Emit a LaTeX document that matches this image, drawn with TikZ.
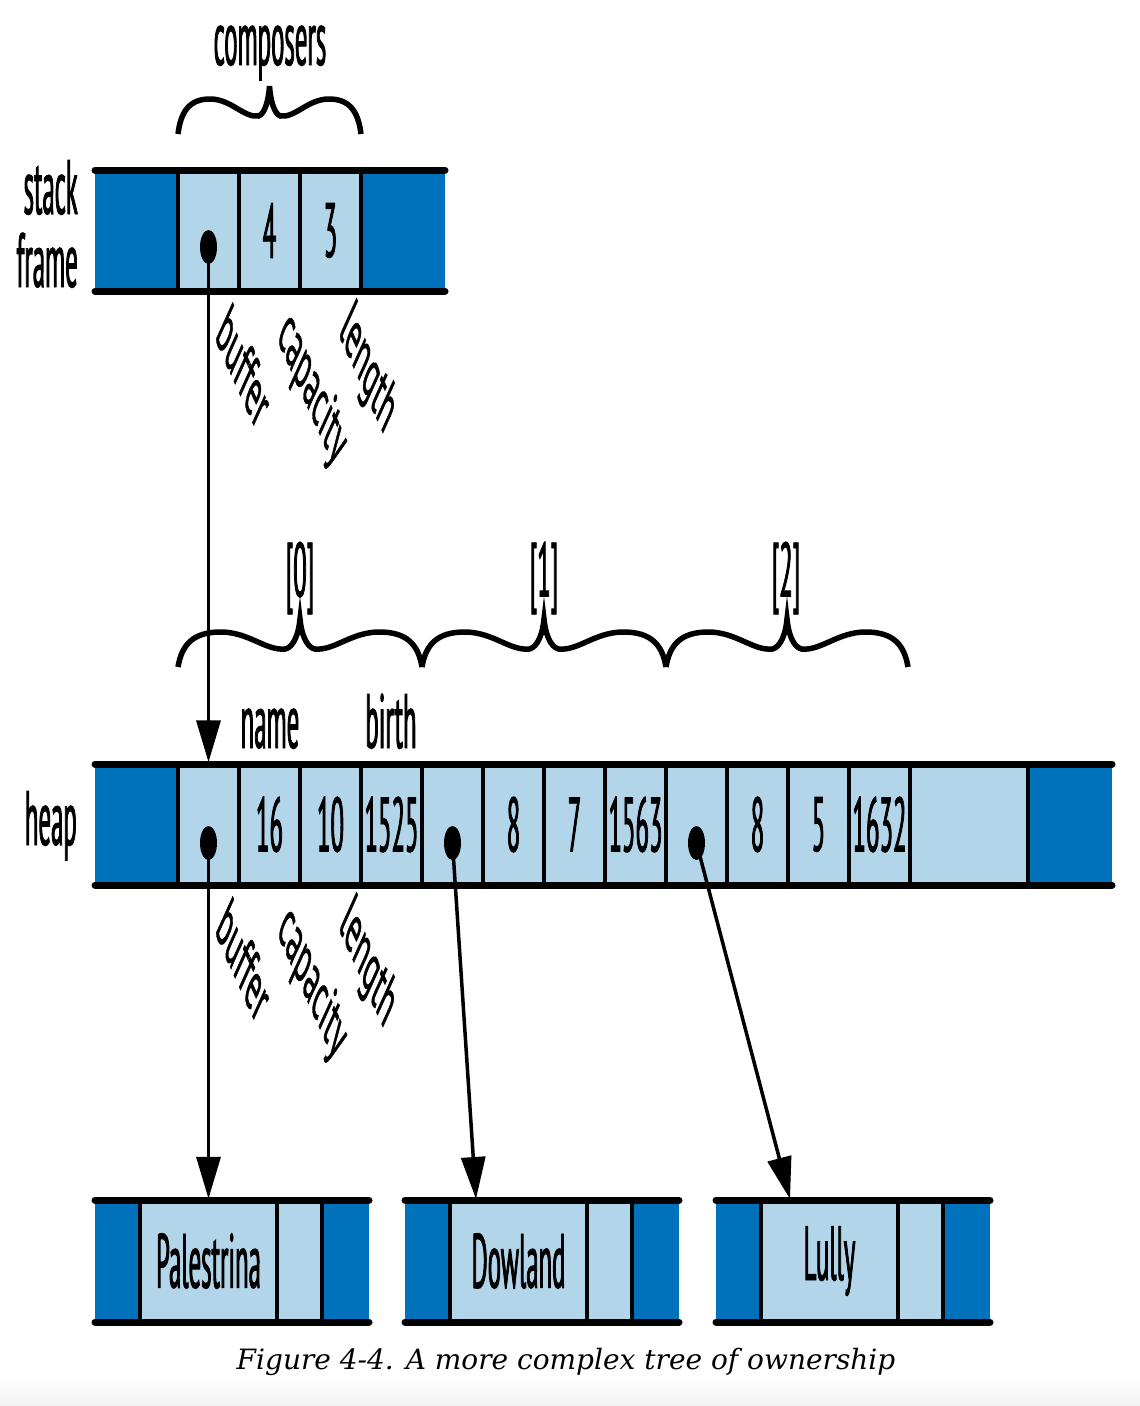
\documentclass[tikz,border=0pt]{standalone}
\usepackage{fontspec}
\usetikzlibrary{arrows.meta,shapes.geometric}
\newfontfamily\figfont[FakeStretch=0.322,FakeBold=1]{PT Sans}
\newfontfamily\rotfont[FakeStretch=0.68,FakeBold=1]{PT Sans}
\newfontfamily\capfont{DejaVu Serif}
\newcommand{\figtxt}{\figfont\fontsize{77}{84}\selectfont}
\newcommand{\rottxt}{\rotfont\fontsize{77}{84}\selectfont}
\definecolor{dk}{HTML}{0072BB}
\definecolor{lt}{HTML}{B3D5EA}

\begin{document}
\begin{tikzpicture}[x=1pt,y=-1pt,
  cell/.style={rectangle,draw=black,fill=lt,line width=3.5pt,minimum height=121pt,inner sep=0pt,font=\figtxt},
  bar/.style={line width=7pt,line cap=round},
  dot/.style={ellipse,fill=black,minimum width=17pt,minimum height=34pt,inner sep=0pt},
  ptr/.style={-{Triangle[length=42pt,width=24pt]},line width=3.5pt},
  brc/.style={line width=5.5pt},
  lab/.style={font=\figtxt,inner sep=0pt},
  rot/.style={font=\rottxt,inner sep=0pt,xscale=0.45,rotate=-45,transform shape}]
\useasboundingbox (0,0) rectangle (1140,1406);
\shade[top color=white,bottom color=black!5] (0,1378) rectangle (1140,1406);

% ---------- stack frame ----------
\fill[dk] (95,170) rectangle (445,291);
\node[cell,minimum width=61pt] (sbuf) at (208.5,230.5) {};
\node[cell,minimum width=61pt] (scap) at (269.5,230.5) {4};
\node[cell,minimum width=61pt] (slen) at (330.5,230.5) {3};
\draw[bar] (95,170) -- (445,170) (95,291) -- (445,291);
\node[dot] (sdot) at (208.5,247) {};
\node[lab,anchor=base east] (lstack) at (78,214) {stack};
\node[lab,anchor=base east] (lframe) at (78,287) {frame};
\node[lab,anchor=base] (lcomp) at (270,65) {composers};
\node[rot] (sbufl) at (244,366) {buffer};
\node[rot] (scapl) at (312,390) {capacity};
\node[rot] (slenl) at (367,371) {length};

% ---------- braces ----------
\foreach \a/\b/\yb in {178/361/134,178/422/667,422/666/667,666/908/667}{
  \pgfmathsetmacro\hw{(\b-\a)/2}
  \begin{scope}[shift={(\a,\yb)},xscale=\hw]
    \draw[brc] (0,0) .. controls (0.03,-22) and (0.12,-35) .. (0.35,-35)
      .. controls (0.58,-35) and (0.72,-16) .. (0.88,-18)
      .. controls (0.95,-20) and (0.99,-34) .. (1,-48)
      .. controls (1.01,-34) and (1.05,-20) .. (1.12,-18)
      .. controls (1.28,-16) and (1.42,-35) .. (1.65,-35)
      .. controls (1.88,-35) and (1.97,-22) .. (2,0);
  \end{scope}
}
\node[lab] (i0) at (300,578) {[0]};
\node[lab] (i1) at (544,578) {[1]};
\node[lab] (i2) at (786,578) {[2]};

% ---------- heap ----------
\fill[dk] (95,764) rectangle (1112,885);
\foreach \x/\t/\n in {208.5//h0,269.5/16/h1,330.5/10/h2,391.5/1525/h3,452.5//h4,513.5/8/h5,
    574.5/7/h6,635.5/1563/h7,696.5//h8,757.5/8/h9,818.5/5/h10,879.5/1632/h11}
  \node[cell,minimum width=61pt] (\n) at (\x,824.5) {\t};
\node[cell,minimum width=118pt] (hfree) at (969,824.5) {};
\draw[bar] (95,764) -- (1112,764) (95,885) -- (1112,885);
\node[dot] (hd0) at (208.5,843) {};
\node[dot] (hd1) at (452.5,843) {};
\node[dot] (hd2) at (696.5,843) {};
\node[lab,anchor=base east] (lheap) at (77,845) {heap};
\node[lab,anchor=base] (lname) at (270,748) {name};
\node[lab,anchor=base] (lbirth) at (391,748) {birth};
\node[rot] (hbufl) at (244,960) {buffer};
\node[rot] (hcapl) at (312,984) {capacity};
\node[rot] (hlenl) at (367,965) {length};

% ---------- strings ----------
\foreach \x/\t/\n in {95/Palestrina/pal,405/Dowland/dow,716/Lully/lul}{
  \fill[dk] (\x,1200) rectangle ++(274,122);
  \node[cell,minimum width=137pt] (\n) at (\x+113.5,1261) {\t};
  \node[cell,minimum width=45pt] (\n-sp) at (\x+204.5,1261) {};
  \draw[bar] (\x,1200) -- ++(274,0) (\x,1322) -- ++(274,0);
}

% ---------- pointers ----------
\coordinate (dowin) at (476,1199);
\coordinate (lulin) at (790,1199);
\draw[ptr] (sdot.center) -- (h0.north);
\draw[ptr] (hd0.center) -- (pal.north);
\draw[ptr] (hd1.center) -- (dowin);
\draw[ptr] (hd2.center) -- (lulin);

\node[font=\capfont\itshape\fontsize{28}{32}\selectfont] (cap) at (566,1362) {Figure 4-4. A more complex tree of ownership};
\end{tikzpicture}
\end{document}
